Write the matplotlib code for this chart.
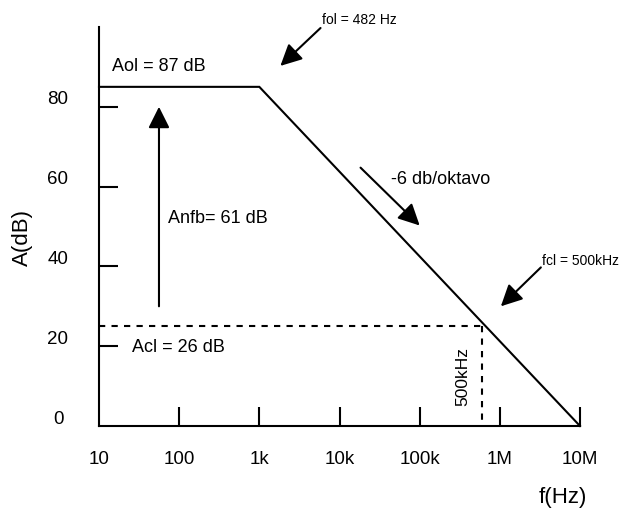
import matplotlib
matplotlib.use("Agg")
import matplotlib.pyplot as plt
from matplotlib.transforms import ScaledTranslation

plt.rcParams['font.family'] = ['Liberation Sans', 'DejaVu Sans']

# ---- data ----
freq_ol = [10, 1000, 1e7]
gain_ol = [85, 85, 0]
acl_level = 25
fcl_freq = 6e5
xticks = [10, 100, 1e3, 1e4, 1e5, 1e6, 1e7]
xticklabels = ['10', '100', '1k', '10k', '100k', '1M', '10M']
yticks = [0, 20, 40, 60, 80]
yticklabels = ['0', '20', '40', '60', '80']

fig = plt.figure(figsize=(6.2, 5.08), dpi=100)
ax = fig.add_axes([99/620, (508-426)/508, (580-99)/620, (426-27)/508])
ax.set_xscale('log')
ax.set_xlim(10, 1e7)
ax.set_ylim(0, 100)
for s in ['top', 'right']:
    ax.spines[s].set_visible(False)
for s in ['left', 'bottom']:
    ax.spines[s].set_linewidth(1.5)

ax.set_xticks(xticks[1:])
ax.set_yticks(yticks[1:])
ax.minorticks_off()
ax.tick_params(direction='in', length=13.5, width=1.5, labelbottom=False, labelleft=False)

# tick labels as text
px = 72 / 100.0
for v, lab in zip(xticks, xticklabels):
    tr = ax.get_xaxis_transform() + ScaledTranslation(0, -34 * px / 72, fig.dpi_scale_trans)
    ax.text(v, 0, lab, transform=tr, ha='center', va='center', fontsize=13.5, clip_on=False)
for v, lab in zip(yticks, yticklabels):
    tr = ax.get_yaxis_transform() + ScaledTranslation(-41 * px / 72, 7 * px / 72, fig.dpi_scale_trans)
    ax.text(0, v, lab, transform=tr, ha='center', va='center', fontsize=13.5, clip_on=False)

fig.text(22/620, 1 - 237/508, 'A(dB)', rotation=90, ha='center', va='center', fontsize=16)
fig.text(563/620, 1 - 497/508, 'f(Hz)', ha='center', va='center', fontsize=16)

# open-loop response
ax.plot(freq_ol, gain_ol, color='black', lw=1.5, solid_joinstyle='miter', clip_on=False)

# closed-loop dashed
ax.plot([10, fcl_freq], [acl_level, acl_level], color='black', lw=1.5, ls=(0, (3, 3)))
ax.plot([fcl_freq, fcl_freq], [acl_level, 0], color='black', lw=1.5, ls=(0, (3, 3)))

arrow = dict(arrowstyle='-|>,head_length=13,head_width=6.5', mutation_scale=1,
             color='black', lw=1.5, shrinkA=0, shrinkB=0)

ax.annotate('', xy=(56, 80), xytext=(56, 30), arrowprops=arrow, annotation_clip=False)
ax.annotate('', xy=(1830, 90.25), xytext=(5800, 99.75), arrowprops=arrow, annotation_clip=False)
ax.annotate('', xy=(1e5, 50.25), xytext=(1.83e4, 64.75), arrowprops=arrow, annotation_clip=False)
ax.annotate('', xy=(1.03e6, 30), xytext=(3.25e6, 39.75), arrowprops=arrow, annotation_clip=False)

ax.text(14.5, 90, 'Aol = 87 dB', fontsize=13, ha='left', va='center')
ax.text(73, 52, 'Anfb= 61 dB', fontsize=13, ha='left', va='center')
ax.text(25.8, 19.75, 'Acl = 26 dB', fontsize=13, ha='left', va='center')
ax.text(4.34e4, 61.75, '-6 db/oktavo', fontsize=13, ha='left', va='center')
ax.text(3.45e5, 12.5, '500kHz', fontsize=12.5, rotation=90, ha='center', va='center')
ax.text(6000, 101.75, 'fol = 482 Hz', fontsize=10, ha='left', va='center', clip_on=False)
ax.text(3.35e6, 41.25, 'fcl = 500kHz', fontsize=10, ha='left', va='center', clip_on=False)

fig.savefig('out.png', dpi=100)
